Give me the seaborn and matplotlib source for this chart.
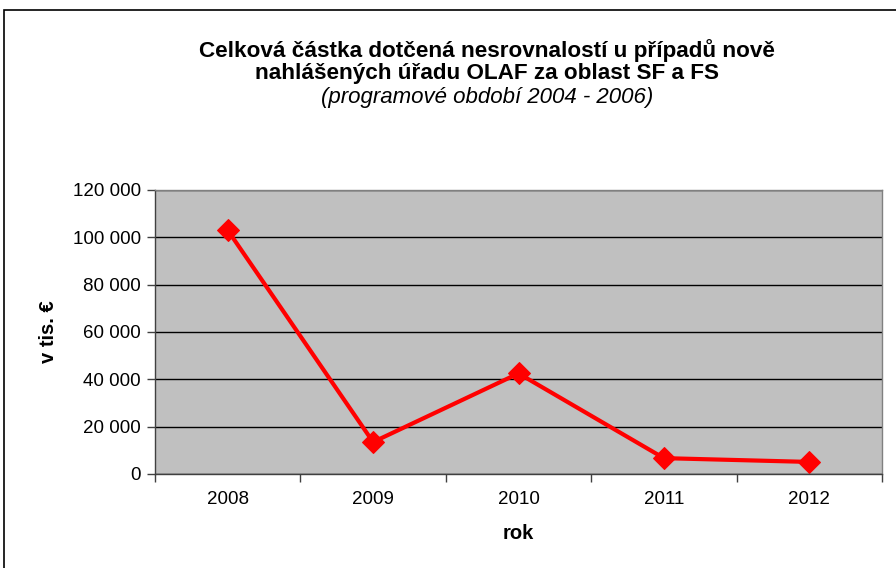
import matplotlib
matplotlib.use("Agg")
import matplotlib.pyplot as plt
import matplotlib.ticker as mticker
from matplotlib.patches import Rectangle
import seaborn as sns
import pandas as pd

years = ["2008", "2009", "2010", "2011", "2012"]
values = [103000, 13500, 42500, 6700, 5100]
y_ticks = [0, 20000, 40000, 60000, 80000, 100000, 120000]

title_lines = ["Celková částka dotčená nesrovnalostí u případů nově",
               "nahlášených úřadu OLAF za oblast SF a FS",
               "(programové období 2004 - 2006)"]

sns.set_theme(style="white")
plt.rcParams['font.family'] = ['Liberation Sans', 'DejaVu Sans']
plt.rcParams['text.color'] = 'black'
plt.rcParams['axes.labelcolor'] = 'black'

df = pd.DataFrame({"rok": years, "val": values})

fig = plt.figure(figsize=(8.96, 5.68), dpi=100)
ax = fig.add_axes([155/896, 1-474/568, (882-155)/896, (474-190)/568])
ax.set_facecolor("#C0C0C0")

sns.lineplot(data=df, x="rok", y="val", ax=ax, color="#FF0000", linewidth=3,
             marker="D", markersize=11, markeredgecolor="#FF0000", sort=False)

ax.set_xlim(-0.5, len(years) - 0.5)
ax.set_ylim(0, 120000)
ax.set_yticks(y_ticks)
ax.yaxis.set_major_formatter(mticker.FuncFormatter(lambda v, p: f"{int(v):,}".replace(",", " ")))
ax.grid(axis="y", color="black", linewidth=1)
ax.set_axisbelow(True)

ax.set_xticks(range(len(years)))
ax.set_xticklabels(years)
ax.set_xticks([i - 0.5 for i in range(len(years) + 1)], minor=True)
ax.tick_params(axis="x", which="major", length=0, pad=12, labelsize=13.5, labelcolor="black")
ax.tick_params(axis="x", which="minor", length=6, width=1, color="#404040", bottom=True)
ax.tick_params(axis="y", which="major", length=6, width=1, color="#404040", left=True,
               labelsize=13.5, pad=4, labelcolor="black")

for s in ["top", "right"]:
    ax.spines[s].set_color("#808080")
    ax.spines[s].set_linewidth(1)
for s in ["left", "bottom"]:
    ax.spines[s].set_color("#404040")
    ax.spines[s].set_linewidth(1)

ax.set_xlabel("rok", fontsize=14.5, fontweight="bold", labelpad=12)
ax.set_ylabel("v tis. €", fontsize=14.5, fontweight="bold", labelpad=11)

cx = 487 / 896
fig.text(cx, 1 - 51/568, title_lines[0], ha="center", va="center", fontsize=16.2, fontweight="bold")
fig.text(cx, 1 - 74/568, title_lines[1], ha="center", va="center", fontsize=16.2, fontweight="bold")
fig.text(cx, 1 - 98/568, title_lines[2], ha="center", va="center", fontsize=16, fontstyle="italic")

fig.patches.append(Rectangle((4/896, -0.1), 1.2, 1 - 10/568 + 0.1, transform=fig.transFigure,
                             fill=False, edgecolor="black", linewidth=1.2))

fig.savefig("out.png", dpi=100)
